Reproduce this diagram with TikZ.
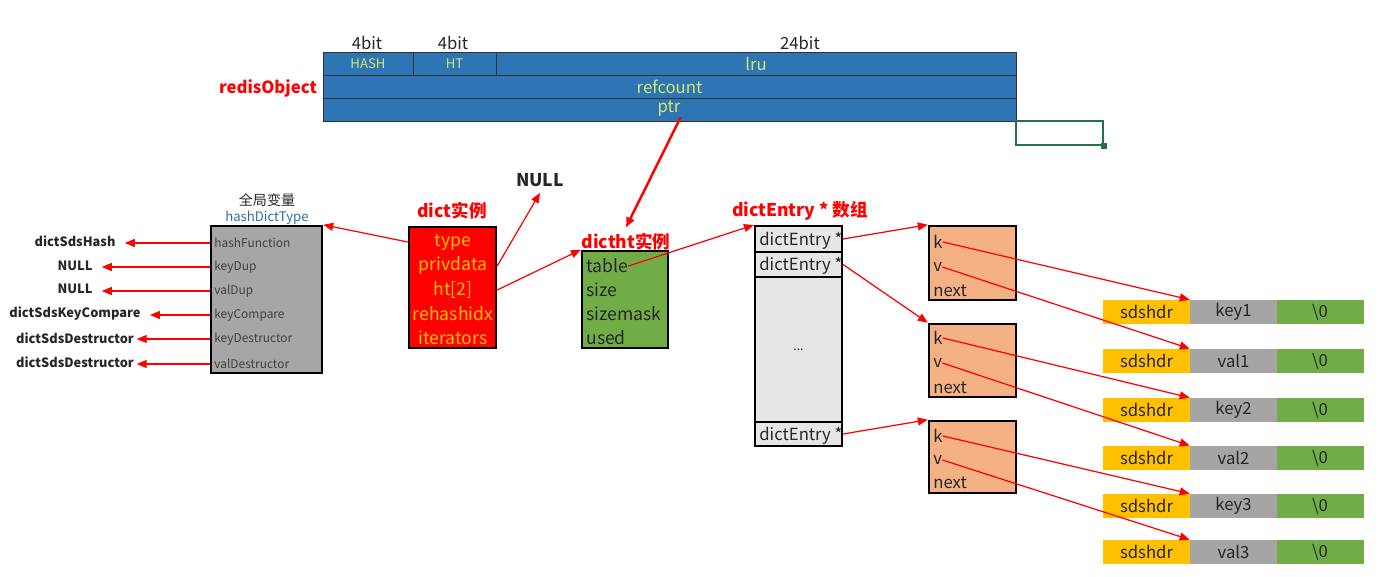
\documentclass[tikz,border=0pt]{standalone}
\usepackage{fontspec}
\setmainfont{Noto Sans CJK SC}
\usetikzlibrary{arrows.meta}
\definecolor{objblue}{HTML}{2E75B6}
\definecolor{objtext}{HTML}{D4E86A}
\definecolor{dictred}{HTML}{FF0000}
\definecolor{dicttext}{HTML}{FFC000}
\definecolor{htgreen}{HTML}{70AD47}
\definecolor{typegray}{HTML}{A6A6A6}
\definecolor{arrgray}{HTML}{E7E6E6}
\definecolor{entorange}{HTML}{F4B183}
\definecolor{hdryellow}{HTML}{FFC000}
\definecolor{bufgray}{HTML}{A5A5A5}
\definecolor{cellgreen}{HTML}{217346}
\definecolor{labblue}{HTML}{2F6DA6}
\definecolor{txtdark}{HTML}{262626}
\tikzset{
  font={\fontsize{9.5pt}{12}\selectfont}}
\tikzset{
  objcell/.style={draw=black!80, fill=objblue, text=objtext, minimum height=0.46cm, inner sep=0pt},
  bigbox/.style={draw=black, line width=1.4pt, inner sep=0pt},
  field/.style={anchor=west, inner sep=0pt, text=txtdark},
  dfield/.style={inner sep=0pt, text=dicttext, font={\fontsize{10pt}{12}\selectfont}},
  tinytext/.style={font={\fontsize{6.8pt}{8}\selectfont}, text=black!75},
  redlbl/.style={text=red, font={\fontsize{10pt}{12}\selectfont\bfseries}},
  funlbl/.style={inner sep=0pt, text=txtdark, font={\fontsize{7.3pt}{9}\selectfont\bfseries}},
  arrcell/.style={draw=black, line width=1.2pt, fill=arrgray, minimum width=1.74cm, inner sep=0pt},
  sdscell/.style={minimum width=1.74cm, minimum height=0.48cm, inner sep=0pt, text=txtdark},
  redarr/.style={red, line width=0.7pt, -{Triangle[length=0.2cm,width=0.16cm]}},
}

\begin{document}
\begin{tikzpicture}[x=0.02cm,y=-0.02cm]
\useasboundingbox (0,0) rectangle (1391,577);

% redisObject
\node[objcell, minimum width=1.8cm, font={\fontsize{7.5pt}{9}\selectfont}] (hash) at (368,64) {HASH};
\node[objcell, minimum width=1.66cm, font={\fontsize{7.5pt}{9}\selectfont}] (htbits) at (454.5,64) {HT};
\node[objcell, minimum width=10.4cm] (lru) at (756,64) {lru};
\node[objcell, minimum width=13.86cm] (refcount) at (669.5,86.5) {refcount};
\node[objcell, minimum width=13.86cm] (ptr) at (669.5,109.5) {};
\node[inner sep=0pt, text=objtext] (ptrtxt) at (669,109) {ptr};
\node[text=txtdark] (bits1) at (367,43) {4bit};
\node[text=txtdark] (bits2) at (453,43) {4bit};
\node[text=txtdark] (bits3) at (800,43) {24bit};
\node[redlbl, font={\fontsize{9.5pt}{12}\selectfont\bfseries}] (robj) at (268,88) {redisObject};
\node[draw=cellgreen, line width=1.2pt, minimum width=1.74cm, minimum height=0.48cm, inner sep=0pt] (xlcell) at (1059.5,133) {};
\fill[cellgreen] ([xshift=-0.06cm,yshift=-0.06cm]xlcell.south east) rectangle ++(0.12cm,0.12cm);

% hashDictType
\node[font={\fontsize{8pt}{9}\selectfont}, text=txtdark] (gvar) at (267,200) {全局变量};
\node[text=labblue, font={\fontsize{7.5pt}{9}\selectfont}] (hdtname) at (267,218) {hashDictType};
\node[bigbox, fill=typegray, minimum width=2.22cm, minimum height=2.94cm] (hdt) at (266.5,299.5) {};
\node[field, tinytext] (hfun) at (214,243) {hashFunction};
\node[field, tinytext] (kdup) at (214,267) {keyDup};
\node[field, tinytext] (vdup) at (214,291) {valDup};
\node[field, tinytext] (kcmp) at (214,315) {keyCompare};
\node[field, tinytext] (kdes) at (214,339) {keyDestructor};
\node[field, tinytext] (vdes) at (214,364) {valDestructor};
\node[funlbl] (fhash) at (75,241) {dictSdsHash};
\node[funlbl] (fnull1) at (75,266) {NULL};
\node[funlbl] (fnull2) at (75,289) {NULL};
\node[funlbl] (fcmp) at (75,314) {dictSdsKeyCompare};
\node[funlbl] (fkdes) at (75,338) {dictSdsDestructor};
\node[funlbl] (fvdes) at (75,362) {dictSdsDestructor};
\draw[redarr, shorten >=0.18cm] (hdt.west |- hfun) -- (fhash.east |- hfun);
\draw[redarr, shorten >=0.18cm] (hdt.west |- kdup) -- (fnull1.east |- kdup);
\draw[redarr, shorten >=0.18cm] (hdt.west |- vdup) -- (fnull2.east |- vdup);
\draw[redarr, shorten >=0.18cm] (hdt.west |- kcmp) -- (fcmp.east |- kcmp);
\draw[redarr, shorten >=0.05cm] (hdt.west |- kdes) -- (fkdes.east |- kdes);
\draw[redarr, shorten >=0.05cm] (hdt.west |- vdes) -- (fvdes.east |- vdes);

% dict
\node[redlbl] (dictlbl) at (452,211) {dict实例};
\node[bigbox, fill=dictred, minimum width=1.74cm, minimum height=2.42cm] (dict) at (452.5,287.5) {};
\node[dfield] (dtype) at (453,242) {type};
\node[dfield] (dpriv) at (453,266) {privdata};
\node[dfield] (dht) at (453,290) {ht[2]};
\node[dfield] (drehash) at (453,314) {rehashidx};
\node[dfield] (diter) at (453,338) {iterators};
\node[text=txtdark, font={\fontsize{10pt}{12}\selectfont\bfseries}] (null0) at (540,180) {NULL};

% dictht
\node[redlbl] (htlbl) at (626,242) {dictht实例};
\node[bigbox, fill=htgreen, minimum width=1.72cm, minimum height=1.94cm] (dictht) at (625,299.5) {};
\node[field, font={\fontsize{10pt}{12}\selectfont}] (tbl) at (586,266) {table};
\node[field, font={\fontsize{10pt}{12}\selectfont}] (tsize) at (586,290) {size};
\node[field, font={\fontsize{10pt}{12}\selectfont}] (tmask) at (586,314) {sizemask};
\node[field, font={\fontsize{10pt}{12}\selectfont}] (tused) at (586,338) {used};

% dictEntry array
\node[redlbl] (arrlbl) at (800,211) {dictEntry * 数组};
\node[arrcell, minimum height=0.52cm] (e1) at (798.5,239) {};
\node[arrcell, minimum height=0.5cm] (e2) at (798.5,264.5) {};
\node[arrcell, minimum height=2.9cm, font={\fontsize{7pt}{8}\selectfont}, text=txtdark] (edots) at (798.5,349.5) {...};
\node[arrcell, minimum height=0.48cm] (en) at (798.5,434) {};
\node[field] (e1txt) at (759,241) {dictEntry *};
\node[field] (e2txt) at (759,266) {dictEntry *};
\node[field] (entxt) at (759,436) {dictEntry *};

% dictEntry nodes
\node[bigbox, fill=entorange, minimum width=1.74cm, minimum height=1.48cm] (ent1) at (972.5,263) {};
\node[bigbox, fill=entorange, minimum width=1.74cm, minimum height=1.46cm] (ent2) at (972.5,360.5) {};
\node[bigbox, fill=entorange, minimum width=1.74cm, minimum height=1.44cm] (ent3) at (972.5,457) {};
\node[field] (k1) at (933,242) {k};
\node[field] (v1) at (933,267) {v};
\node[field] (n1) at (933,291) {next};
\node[field] (k2) at (933,338) {k};
\node[field] (v2) at (933,363) {v};
\node[field] (n2) at (933,388) {next};
\node[field] (k3) at (933,436) {k};
\node[field] (v3) at (933,460) {v};
\node[field] (n3) at (933,483) {next};

% sds strings
\node[sdscell, fill=hdryellow] (h1) at (1146.5,312) {sdshdr};
\node[sdscell, fill=bufgray] (key1) at (1233.5,312) {key1};
\node[sdscell, fill=htgreen] (z1) at (1320,312) {\textbackslash 0};
\node[sdscell, fill=hdryellow] (h2) at (1146.5,361) {sdshdr};
\node[sdscell, fill=bufgray] (val1) at (1233.5,361) {val1};
\node[sdscell, fill=htgreen] (z2) at (1320,361) {\textbackslash 0};
\node[sdscell, fill=hdryellow] (h3) at (1146.5,410) {sdshdr};
\node[sdscell, fill=bufgray] (key2) at (1233.5,410) {key2};
\node[sdscell, fill=htgreen] (z3) at (1320,410) {\textbackslash 0};
\node[sdscell, fill=hdryellow] (h4) at (1146.5,458) {sdshdr};
\node[sdscell, fill=bufgray] (val2) at (1233.5,458) {val2};
\node[sdscell, fill=htgreen] (z4) at (1320,458) {\textbackslash 0};
\node[sdscell, fill=hdryellow] (h5) at (1146.5,506) {sdshdr};
\node[sdscell, fill=bufgray] (key3) at (1233.5,506) {key3};
\node[sdscell, fill=htgreen] (z5) at (1320,506) {\textbackslash 0};
\node[sdscell, fill=hdryellow] (h6) at (1146.5,552) {sdshdr};
\node[sdscell, fill=bufgray] (val3) at (1233.5,552) {val3};
\node[sdscell, fill=htgreen] (z6) at (1320,552) {\textbackslash 0};

% pointers
\draw[redarr, line width=1.4pt] (ptrtxt.south east) -- (htlbl.north);
\draw[redarr] (dict.west |- dtype) -- (hdt.north east);
\draw[redarr] (dict.east |- dpriv) -- (null0.south);
\draw[redarr] (dict.east |- dht) -- (dictht.north west);
\draw[redarr] (tbl.east) -- (e1.north west);
\draw[redarr] (e1.east) -- (ent1.north west);
\draw[redarr] (e2.east) -- (ent2.north west);
\draw[redarr] (en.east) -- (ent3.north west);
\draw[redarr] (k1.east) -- (key1.north west);
\draw[redarr] (v1.east) -- (val1.north west);
\draw[redarr] (k2.east) -- (key2.north west);
\draw[redarr] (v2.east) -- (val2.north west);
\draw[redarr] (k3.east) -- (key3.north west);
\draw[redarr] (v3.east) -- (val3.north west);
\end{tikzpicture}
\end{document}
